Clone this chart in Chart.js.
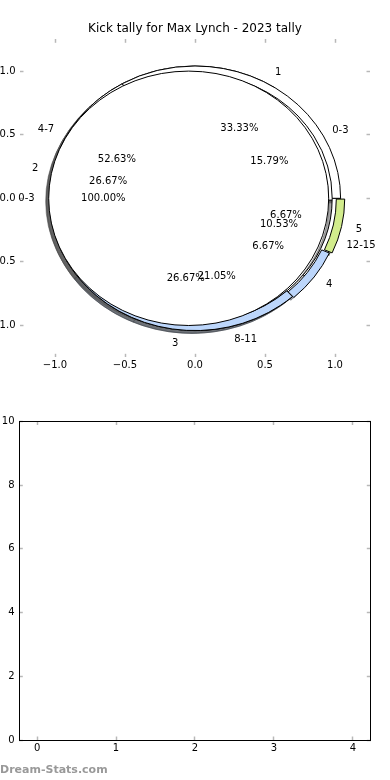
<!DOCTYPE html>
<html><head><meta charset="utf-8">
<script src="https://cdn.jsdelivr.net/npm/chart.js@4.4.0/dist/chart.umd.min.js"></script>
<style>
html,body{margin:0;padding:0;background:#fff;width:390px;height:780px;overflow:hidden;}
#top{position:absolute;left:0;top:0;width:390px;height:390px;}
#bottom{position:absolute;left:0;top:390px;width:390px;height:390px;}
#wm{position:absolute;left:0;top:763px;font:bold 11px "DejaVu Sans";color:#999;}
</style></head><body>
<div id="top"><canvas id="c1"></canvas></div>
<div id="bottom"><canvas id="c2"></canvas></div>
<div id="wm">Dream-Stats.com</div>
<script>
// ---------- data ----------
const chartTitle = 'Kick tally for Max Lynch - 2023 tally';
const totalLabels = ['0-3'];
const totalValues = [1];
const quarterLabels = ['0-3', '4-7', '8-11', '12-15'];
const quarterValues = [3, 10, 4, 2];
const kickLabels = ['1', '2', '3', '4', '5'];
const kickValues = [5, 4, 4, 1, 1];
const pieAxisTicks = [-1.0, -0.5, 0.0, 0.5, 1.0];
const barCategories = [0, 1, 2, 3, 4];
const barValues = [];
const barYTicks = [0, 2, 4, 6, 8, 10];

// ---------- styles ----------
const BLUE = '#bcd6fb', GREEN = '#d2ec8c';
const pieStyles = {
  quarter: {radius: 1.04, width: 0.06, colors: ['#ffffff', '#ffffff', '#ffffff', '#ffffff'], explode: [-0.03, 0, 0, 0]},
  kick:    {radius: 1.04, width: 0.06, colors: ['#ffffff', '#ffffff', BLUE, BLUE, GREEN], explode: [0, 0, 0, 0.012, 0.03]},
  total:   {radius: 1.0, width: null, colors: ['#ffffff'], explode: [0.045]}
};
// drawing order: quarters, kicks, then the full tally on top
const pies = [
  {labels: quarterLabels, values: quarterValues, style: pieStyles.quarter},
  {labels: kickLabels, values: kickValues, style: pieStyles.kick},
  {labels: totalLabels, values: totalValues, style: pieStyles.total}
];
const LABEL_DIST = 1.1, PCT_DIST = 0.61;
const SHADOW = {dx: -0.022, dy: -0.022, alpha: 0.5};

Chart.defaults.font.family = '"DejaVu Sans", sans-serif';
Chart.defaults.font.size = 10;
Chart.defaults.color = '#000';

function fmtAxis(v) {
  const s = Math.abs(v).toFixed(1);
  return v < 0 ? '\u2212' + s : s;
}

function wedgePath(ctx, sx, sy, cxv, cyv, r, w, a1, a2) {
  const cx = sx.getPixelForValue(cxv), cy = sy.getPixelForValue(cyv);
  const kx = Math.abs(sx.getPixelForValue(1) - sx.getPixelForValue(0));
  const ky = Math.abs(sy.getPixelForValue(0) - sy.getPixelForValue(1));
  const full = Math.abs(a2 - a1 - 2 * Math.PI) < 1e-9;
  ctx.beginPath();
  if (w == null) {
    if (full) {
      ctx.ellipse(cx, cy, r * kx, r * ky, 0, 0, 2 * Math.PI);
    } else {
      ctx.moveTo(cx, cy);
      ctx.ellipse(cx, cy, r * kx, r * ky, 0, -a1, -a2, true);
      ctx.closePath();
    }
    return;
  }
  const ri = r - w;
  ctx.ellipse(cx, cy, r * kx, r * ky, 0, -a1, -a2, true);
  ctx.ellipse(cx, cy, ri * kx, ri * ky, 0, -a2, -a1, false);
  ctx.closePath();
}

function wedgesOf(pie) {
  const total = pie.values.reduce((a, b) => a + b, 0);
  let acc = 0;
  return pie.values.map((v, i) => {
    const a1 = acc / total * 2 * Math.PI;
    acc += v;
    const a2 = acc / total * 2 * Math.PI;
    const mid = (a1 + a2) / 2;
    const ex = pie.style.explode[i] || 0;
    return {a1, a2, mid, cx: ex * Math.cos(mid), cy: ex * Math.sin(mid),
            pct: v / total * 100, label: pie.labels[i], color: pie.style.colors[i]};
  });
}

function shade(hex) {
  const n = parseInt(hex.slice(1), 16);
  const r = Math.round(((n >> 16) & 255) * 0.3), g = Math.round(((n >> 8) & 255) * 0.3), b = Math.round((n & 255) * 0.3);
  return `rgba(${r},${g},${b},${SHADOW.alpha})`;
}

const piePlugin = {
  id: 'nestedPies',
  afterDatasetsDraw(chart) {
    const ctx = chart.ctx, sx = chart.scales.x, sy = chart.scales.y;
    const all = pies.map(p => ({p, w: wedgesOf(p)}));
    ctx.save();
    // shadows beneath every wedge
    all.forEach(({p, w}) => w.forEach(s => {
      wedgePath(ctx, sx, sy, s.cx + SHADOW.dx, s.cy + SHADOW.dy, p.style.radius, p.style.width, s.a1, s.a2);
      const c = shade(s.color);
      ctx.fillStyle = c; ctx.fill();
      ctx.lineWidth = 1; ctx.strokeStyle = c; ctx.stroke();
    }));
    // wedges
    all.forEach(({p, w}) => w.forEach(s => {
      wedgePath(ctx, sx, sy, s.cx, s.cy, p.style.radius, p.style.width, s.a1, s.a2);
      ctx.fillStyle = s.color;
      ctx.fill();
      ctx.lineWidth = 1;
      ctx.strokeStyle = '#000';
      ctx.stroke();
    }));
    // labels and percentages
    ctx.fillStyle = '#000';
    ctx.font = '10px "DejaVu Sans"';
    ctx.textBaseline = 'middle';
    all.forEach(({p, w}) => w.forEach(s => {
      const R = p.style.radius;
      const lx = s.cx + LABEL_DIST * R * Math.cos(s.mid);
      const ly = s.cy + LABEL_DIST * R * Math.sin(s.mid);
      ctx.textAlign = lx > 0 ? 'left' : 'right';
      ctx.fillText(s.label, sx.getPixelForValue(lx), sy.getPixelForValue(ly));
      const px = s.cx + PCT_DIST * R * Math.cos(s.mid);
      const py = s.cy + PCT_DIST * R * Math.sin(s.mid);
      ctx.textAlign = 'center';
      ctx.fillText(s.pct.toFixed(2) + '%', sx.getPixelForValue(px), sy.getPixelForValue(py));
    }));
    ctx.restore();
  }
};

const tickGrid = {display: true, drawOnChartArea: false, drawTicks: true, offset: false, tickLength: -3.5, tickColor: '#b8b8b8', tickWidth: 1.5};

function axis(pos, axisName, min, max, tickArr, fmt, size, showLabels, pad, border) {
  return {
    type: 'linear', axis: axisName, position: pos, min, max, offset: false,
    grid: tickGrid,
    border: border ? {display: true, color: '#000', width: 1} : {display: false},
    afterBuildTicks: s => { s.ticks = tickArr.map(v => ({value: v})); },
    ticks: {display: showLabels, padding: pad, callback: fmt, font: {size: 10}, color: '#000', autoSkip: false, maxRotation: 0},
    afterFit: s => { if (axisName === 'x') s.height = size; else s.width = size; }
  };
}

new Chart(document.getElementById('c1'), {
  type: 'scatter',
  data: {datasets: [{data: [], showLine: false}]},
  options: {
    responsive: true, maintainAspectRatio: false, animation: false, devicePixelRatio: 1,
    layout: {padding: 0},
    plugins: {
      legend: {display: false}, tooltip: {enabled: false},
      title: {display: true, text: chartTitle, color: '#000', font: {size: 12, weight: 'normal'}, padding: {top: 22, bottom: 2.9}}
    },
    scales: {
      x: axis('bottom', 'x', -1.25, 1.25, pieAxisTicks, fmtAxis, 32.7, true, 6, false),
      x2: axis('top', 'x', -1.25, 1.25, pieAxisTicks, fmtAxis, 0, false, 0, false),
      y: axis('left', 'y', -1.25, 1.25, pieAxisTicks, fmtAxis, 20, true, 8, false),
      y2: axis('right', 'y', -1.25, 1.25, pieAxisTicks, fmtAxis, 20, false, 0, false)
    }
  },
  plugins: [piePlugin]
});

new Chart(document.getElementById('c2'), {
  type: 'bar',
  data: {labels: barCategories, datasets: [{data: barValues, backgroundColor: BLUE}]},
  options: {
    responsive: true, maintainAspectRatio: false, animation: false, devicePixelRatio: 1,
    layout: {padding: 0},
    plugins: {legend: {display: false}, tooltip: {enabled: false}},
    scales: {
      x: axis('bottom', 'x', -0.225, 4.22, barCategories, v => String(v), 40, true, 6, true),
      x2: axis('top', 'x', -0.225, 4.22, barCategories, v => String(v), 31.5, false, 0, true),
      y: axis('left', 'y', 0, 10, barYTicks, v => String(v), 19.3, true, 8.3, true),
      y2: axis('right', 'y', 0, 10, barYTicks, v => String(v), 19.7, false, 0, true)
    }
  }
});
</script>
</body></html>
